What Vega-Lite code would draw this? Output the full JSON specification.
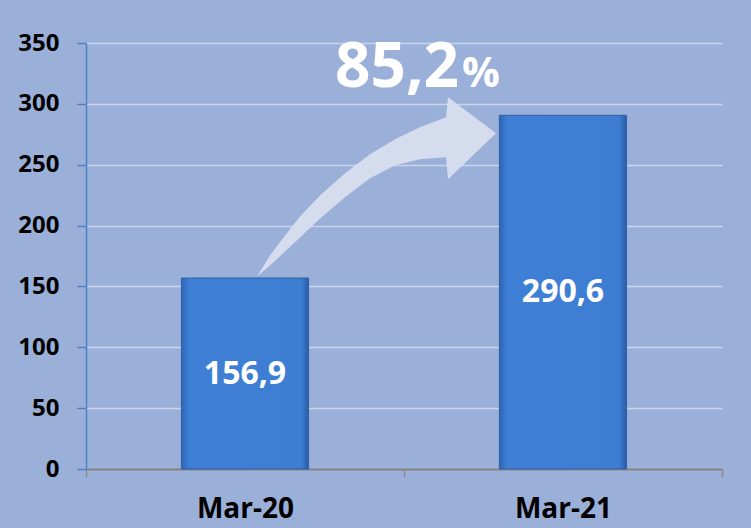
{
  "$schema": "https://vega.github.io/schema/vega-lite/v6.json",
  "width": 636,
  "height": 426,
  "autosize": {"type": "none"},
  "padding": {"left": 86, "top": 43, "right": 29, "bottom": 59},
  "background": "#9ab0d9",
  "config": {
    "font": "Open Sans",
    "view": {"stroke": null},
    "axis": {"labelFont": "Open Sans", "labelFontWeight": "bold", "labelColor": "#000000"}
  },
  "datasets": {
    "bars": [
      {"month": "Mar-20", "value": 156.9, "label": "156,9"},
      {"month": "Mar-21", "value": 290.6, "label": "290,6"}
    ],
    "arrow": [
      {"x": 0.5377, "upper": 158.2, "lower": 158.2},
      {"x": 0.5786, "upper": 175.5, "lower": 167.2},
      {"x": 0.6258, "upper": 191.9, "lower": 178.7},
      {"x": 0.6730, "upper": 207.5, "lower": 190.3},
      {"x": 0.7358, "upper": 224.8, "lower": 205.9},
      {"x": 0.8145, "upper": 242.9, "lower": 223.2},
      {"x": 0.8931, "upper": 258.5, "lower": 238.8},
      {"x": 0.9717, "upper": 270.9, "lower": 249.5},
      {"x": 1.0503, "upper": 280.7, "lower": 254.4},
      {"x": 1.1321, "upper": 289.0, "lower": 256.1},
      {"x": 1.1384, "upper": 305.4, "lower": 238.0},
      {"x": 1.2893, "upper": 275.8, "lower": 275.8}
    ],
    "pct": [{"x": 0.783, "y": 313.6, "text": "85,2"}],
    "pctSign": [{"x": 1.182, "y": 313.6, "text": "%"}]
  },
  "resolve": {"scale": {"x": "independent"}},
  "layer": [
    {
      "data": {"name": "bars"},
      "mark": {
        "type": "bar",
        "width": {"band": 0.4},
        "color": {
          "gradient": "linear", "x1": 0, "y1": 0, "x2": 1, "y2": 0,
          "stops": [
            {"offset": 0, "color": "#2d64b3"},
            {"offset": 0.06, "color": "#3f80d6"},
            {"offset": 0.94, "color": "#3d7dd2"},
            {"offset": 1, "color": "#2a5ca6"}
          ]
        },
        "stroke": "#2e5fa5",
        "strokeWidth": 1
      },
      "encoding": {
        "x": {
          "field": "month", "type": "nominal", "title": null,
          "scale": {"paddingInner": 0, "paddingOuter": 0},
          "axis": {
            "labelAngle": 0, "labelFontSize": 28, "labelPadding": 18,
            "domainColor": "#808080", "domainWidth": 2,
            "ticks": true, "tickBand": "extent", "tickColor": "#8c8c8c", "tickSize": 8, "tickWidth": 1.5
          }
        },
        "y": {
          "field": "value", "type": "quantitative", "title": null,
          "scale": {"domain": [0, 350], "nice": false},
          "axis": {
            "values": [0, 50, 100, 150, 200, 250, 300, 350],
            "labelFontSize": 24, "labelPadding": 18,
            "domainColor": "#4d82c9", "domainWidth": 1.5,
            "tickColor": "#4d82c9", "tickSize": 9, "tickWidth": 1.5,
            "grid": true, "gridColor": "#c9d5ef", "gridWidth": 1.5
          }
        }
      }
    },
    {
      "data": {"name": "bars"},
      "transform": [{"calculate": "datum.value / 2", "as": "mid"}],
      "mark": {"type": "text", "color": "white", "fontSize": 32, "fontWeight": "bold", "baseline": "middle", "align": "center"},
      "encoding": {
        "x": {"field": "month", "type": "nominal", "axis": null, "scale": {"paddingInner": 0, "paddingOuter": 0}},
        "y": {"field": "mid", "type": "quantitative"},
        "text": {"field": "label"}
      }
    },
    {
      "data": {"name": "arrow"},
      "mark": {"type": "area", "color": "#d7deef", "opacity": 0.95, "interpolate": "linear"},
      "encoding": {
        "x": {"field": "x", "type": "quantitative", "axis": null, "scale": {"domain": [0, 2], "nice": false, "zero": false}},
        "y": {"field": "upper", "type": "quantitative"},
        "y2": {"field": "lower"}
      }
    },
    {
      "data": {"name": "pct"},
      "mark": {"type": "text", "color": "white", "fontSize": 62, "fontWeight": "bold", "align": "left", "baseline": "alphabetic"},
      "encoding": {
        "x": {"field": "x", "type": "quantitative", "axis": null, "scale": {"domain": [0, 2], "nice": false, "zero": false}},
        "y": {"field": "y", "type": "quantitative"},
        "text": {"field": "text"}
      }
    },
    {
      "data": {"name": "pctSign"},
      "mark": {"type": "text", "color": "white", "fontSize": 42, "fontWeight": "bold", "align": "left", "baseline": "alphabetic"},
      "encoding": {
        "x": {"field": "x", "type": "quantitative", "axis": null, "scale": {"domain": [0, 2], "nice": false, "zero": false}},
        "y": {"field": "y", "type": "quantitative"},
        "text": {"field": "text"}
      }
    }
  ]
}
